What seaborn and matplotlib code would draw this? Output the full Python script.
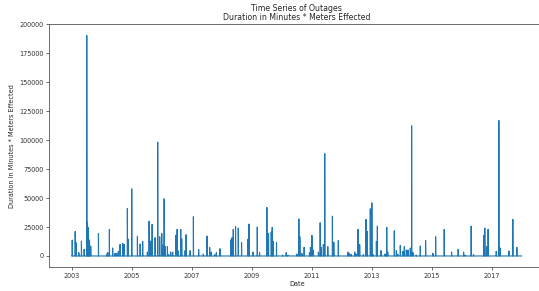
import numpy as np
import pandas as pd

import matplotlib
matplotlib.use("Agg")
import matplotlib.pyplot as plt
import seaborn as sns


# Outage events (date, duration in minutes * meters effected)

outage_dates = [
    "2003-01-09", "2003-02-14", "2003-02-26", "2003-03-30", "2003-05-01",
    "2003-06-03", "2003-07-05", "2003-07-13", "2003-07-25", "2003-08-07",
    "2003-08-22", "2003-11-24", "2004-03-04", "2004-03-16", "2004-04-05",
    "2004-05-15", "2004-06-13", "2004-07-03", "2004-07-23", "2004-08-13",
    "2004-09-14", "2004-10-01", "2004-11-10", "2004-11-22", "2005-01-02",
    "2005-03-12", "2005-04-14", "2005-05-15", "2005-07-11", "2005-08-01",
    "2005-08-21", "2005-09-07", "2005-10-13", "2005-11-14", "2005-12-08",
    "2006-01-02", "2006-01-18", "2006-01-31", "2006-02-15", "2006-03-12",
    "2006-03-28", "2006-04-21", "2006-05-15", "2006-06-21", "2006-07-08",
    "2006-07-24", "2006-08-21", "2006-09-02", "2006-10-13", "2006-10-25",
    "2006-12-13", "2007-01-22", "2007-03-27", "2007-05-23", "2007-07-07",
    "2007-08-08", "2007-08-28", "2007-10-08", "2007-10-28", "2007-12-12",
    "2008-04-19", "2008-05-06", "2008-05-21", "2008-06-18", "2008-07-21",
    "2008-08-30", "2008-11-16", "2008-11-28", "2009-01-17", "2009-03-09",
    "2009-04-06", "2009-07-04", "2009-07-24", "2009-08-26", "2009-09-07",
    "2009-09-19", "2009-10-29", "2010-01-10", "2010-02-24", "2010-03-16",
    "2010-07-04", "2010-07-28", "2010-08-09", "2010-09-02", "2010-09-30",
    "2010-12-04", "2010-12-16", "2011-01-03", "2011-01-18", "2011-03-23",
    "2011-04-13", "2011-04-28", "2011-05-22", "2011-06-08", "2011-07-15",
    "2011-09-09", "2011-09-26", "2011-11-20", "2012-03-14", "2012-03-29",
    "2012-04-23", "2012-06-07", "2012-06-22", "2012-07-17", "2012-08-06",
    "2012-09-19", "2012-10-22", "2012-11-07", "2012-12-13", "2013-01-01",
    "2013-01-17", "2013-02-25", "2013-03-09", "2013-04-23", "2013-06-10",
    "2013-07-01", "2013-07-13", "2013-10-01", "2013-10-26", "2013-11-12",
    "2013-12-13", "2014-01-15", "2014-01-31", "2014-02-24", "2014-03-17",
    "2014-04-14", "2014-04-30", "2014-05-16", "2014-06-25", "2014-08-13",
    "2014-10-17", "2015-01-14", "2015-02-16", "2015-05-31", "2015-08-29",
    "2015-11-17", "2016-01-22", "2016-02-07", "2016-04-23", "2016-05-22",
    "2016-09-21", "2016-10-06", "2016-10-27", "2016-11-15", "2017-02-22",
    "2017-03-26", "2017-04-11", "2017-07-26", "2017-09-12", "2017-10-31",
]

outage_values = [
    13800, 21200, 11500, 2900, 12900,
    5700, 190500, 29000, 24400, 13800,
    8600, 19500, 1700, 2900, 23000,
    6900, 2300, 2300, 4000, 10000,
    10900, 10000, 41000, 14400, 58000,
    17000, 10300, 12600, 3400, 30000,
    12900, 27300, 15800, 98400, 16600,
    19500, 9200, 49400, 8000, 8000,
    1100, 3400, 3400, 17800, 23000,
    4300, 23000, 14900, 4600, 18400,
    4600, 33900, 5700, 1700, 17200,
    7500, 3400, 1100, 2900, 6300,
    13800, 15800, 23000, 25300, 24100,
    11500, 14400, 27600, 3400, 25000,
    2900, 41900, 19500, 20700, 24700,
    12600, 11500, 900, 2900, 600,
    1700, 32000, 16600, 2300, 7500,
    2900, 7500, 17800, 5200, 3400,
    28700, 7500, 9800, 88400, 8000,
    34400, 12000, 13200, 3400, 2300,
    1400, 3400, 1700, 23000, 9800,
    1100, 31600, 21200, 40800, 45900,
    1100, 12600, 25800, 4600, 1700,
    24700, 3400, 21800, 4600, 1700,
    9200, 4000, 8000, 5200, 5200,
    6900, 112500, 2900, 800, 8600,
    13200, 2300, 16600, 23000, 3400,
    5700, 3400, 800, 25800, 1100,
    17800, 24100, 8000, 23000, 4000,
    117000, 6900, 4300, 31600, 7500,
]

series_start = "2003-01-01"
series_end = "2017-12-31"

year_ticks = ["2003", "2005", "2007", "2009", "2011", "2013", "2015", "2017"]


# Daily series: days without an outage are zero

events = pd.Series(
    outage_values,
    index=pd.to_datetime(outage_dates)
)

days = pd.date_range(series_start, series_end, freq="D")

daily = events.reindex(days, fill_value=0)

df = pd.DataFrame({
    "Date": daily.index,
    "Duration in Minutes * Meters Effected": daily.values
})


# Plot

sns.set_style("ticks")

plt.rcParams["font.family"] = ["DejaVu Sans"]

fig = plt.figure(figsize=(5.39, 2.91), dpi=100)

ax = fig.add_axes([0.091, 0.0825, 0.919, 0.8335])

sns.lineplot(
    data=df,
    x="Date",
    y="Duration in Minutes * Meters Effected",
    estimator=None,
    color="#1f77b4",
    linewidth=0.8,
    ax=ax
)

ax.set_yticks(np.arange(0, 200001, 25000))

ax.set_xticks(pd.to_datetime([y + "-01-01" for y in year_ticks]))
ax.set_xticklabels(year_ticks)

ax.tick_params(
    labelsize=4.7,
    length=2,
    width=0.5,
    pad=2,
    colors="#333333"
)

for spine in ax.spines.values():
    spine.set_linewidth(0.6)
    spine.set_color("#555555")

ax.set_xlabel("Date", fontsize=4.7, labelpad=2)
ax.set_ylabel(
    "Duration in Minutes * Meters Effected",
    fontsize=4.7,
    labelpad=3
)

ax.set_title(
    "Time Series of Outages\nDuration in Minutes * Meters Effected",
    fontsize=5.6,
    pad=3,
    linespacing=1.1
)

fig.savefig("out.png", dpi=100)

plt.close(fig)
